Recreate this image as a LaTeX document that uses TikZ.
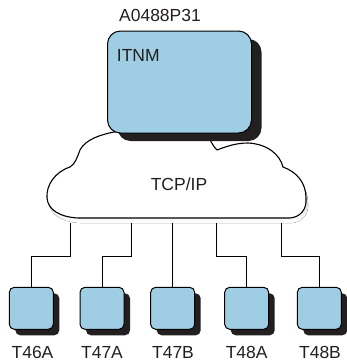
\documentclass[tikz,border=0pt]{standalone}
\usepackage{fontspec}
\setmainfont{Liberation Sans}
\usetikzlibrary{shadows}
\definecolor{boxblue}{RGB}{159,205,227}
\definecolor{shade}{RGB}{35,31,32}
\begin{document}
\begin{tikzpicture}[x=1pt,y=-1pt,
  lbl/.style={font=\fontsize{17.5}{20}\selectfont, text=shade, inner sep=0pt, anchor=base},
  term/.style={draw=black, line width=1pt, fill=boxblue, rounded corners=5pt,
    minimum width=44pt, minimum height=42pt, inner sep=0pt,
    drop shadow={shadow xshift=6pt, shadow yshift=-6pt, fill=shade, opacity=1}},
  server/.style={draw=black, line width=1pt, fill=boxblue, rounded corners=13pt,
    minimum width=144pt, minimum height=102pt, inner sep=0pt,
    drop shadow={shadow xshift=10pt, shadow yshift=-8pt, fill=shade, opacity=1}},
  link/.style={draw=black, line width=1pt},
  cloudline/.style={draw=black, line width=1.1pt, fill=white, line join=round}]
\useasboundingbox (0,0) rectangle (346,362);
% cloud shadow
\fill[shade, shift={(2,5)}] (120,131) .. controls (100,134) and (85,140) .. (80,150)
  .. controls (77,158) and (75,164) .. (70,167)
  .. controls (55,172) and (46,185) .. (47,198)
  .. controls (48,210) and (60,217) .. (78,218) -- (290,218)
  .. controls (300,217) and (307,210) .. (306,198)
  .. controls (306,183) and (297,172) .. (283,167)
  .. controls (280,155) and (268,144) .. (248,143)
  .. controls (235,143) and (225,147) .. (217,150)
  .. controls (213,146) and (212,143) .. (210,140) -- (200,132) -- cycle;
% cloud
\path[cloudline] (120,131) .. controls (100,134) and (85,140) .. (80,150)
  .. controls (77,158) and (75,164) .. (70,167)
  .. controls (55,172) and (46,185) .. (47,198)
  .. controls (48,210) and (60,217) .. (78,218) -- (290,218)
  .. controls (300,217) and (307,210) .. (306,198)
  .. controls (306,183) and (297,172) .. (283,167)
  .. controls (280,155) and (268,144) .. (248,143)
  .. controls (235,143) and (225,147) .. (217,150)
  .. controls (213,146) and (212,143) .. (210,140) -- (200,132) -- cycle;
\node[lbl] (tcp) at (179,190) {TCP/IP};
% server
\node[server] (srv) at (179.5,82) {};
\node[lbl, anchor=base west] (itnm) at (116.7,61) {ITNM};
\node[lbl] (name) at (160,21.7) {A0488P31};
% terminals
\node[term] (t1) at (31.3,308.3) {};
\node[term] (t2) at (102,308.3) {};
\node[term] (t3) at (172.7,308.3) {};
\node[term] (t4) at (246.7,308.3) {};
\node[term] (t5) at (319.3,308.3) {};
% connectors
\coordinate (c1) at (70,223);  \coordinate (k1) at (70,256.7);
\coordinate (c2) at (131.7,223); \coordinate (k2) at (131.7,256.7);
\coordinate (c3) at (172.7,223);
\coordinate (c4) at (216.7,223); \coordinate (k4) at (216.7,256.7);
\coordinate (c5) at (281,223); \coordinate (k5) at (281,256.7);
\draw[link] (c1) -- (k1) -| (t1.north);
\draw[link] (c2) -- (k2) -| (t2.north);
\draw[link] (c3) -- (t3.north);
\draw[link] (c4) -- (k4) -| (t4.north);
\draw[link] (c5) -- (k5) -| (t5.north);
% labels
\node[lbl] (l1) at (32.5,358.3) {T46A};
\node[lbl] (l2) at (102,358.3) {T47A};
\node[lbl] (l3) at (173,358.3) {T47B};
\node[lbl] (l4) at (246.7,358.3) {T48A};
\node[lbl] (l5) at (320,358.3) {T48B};
\end{tikzpicture}
\end{document}
